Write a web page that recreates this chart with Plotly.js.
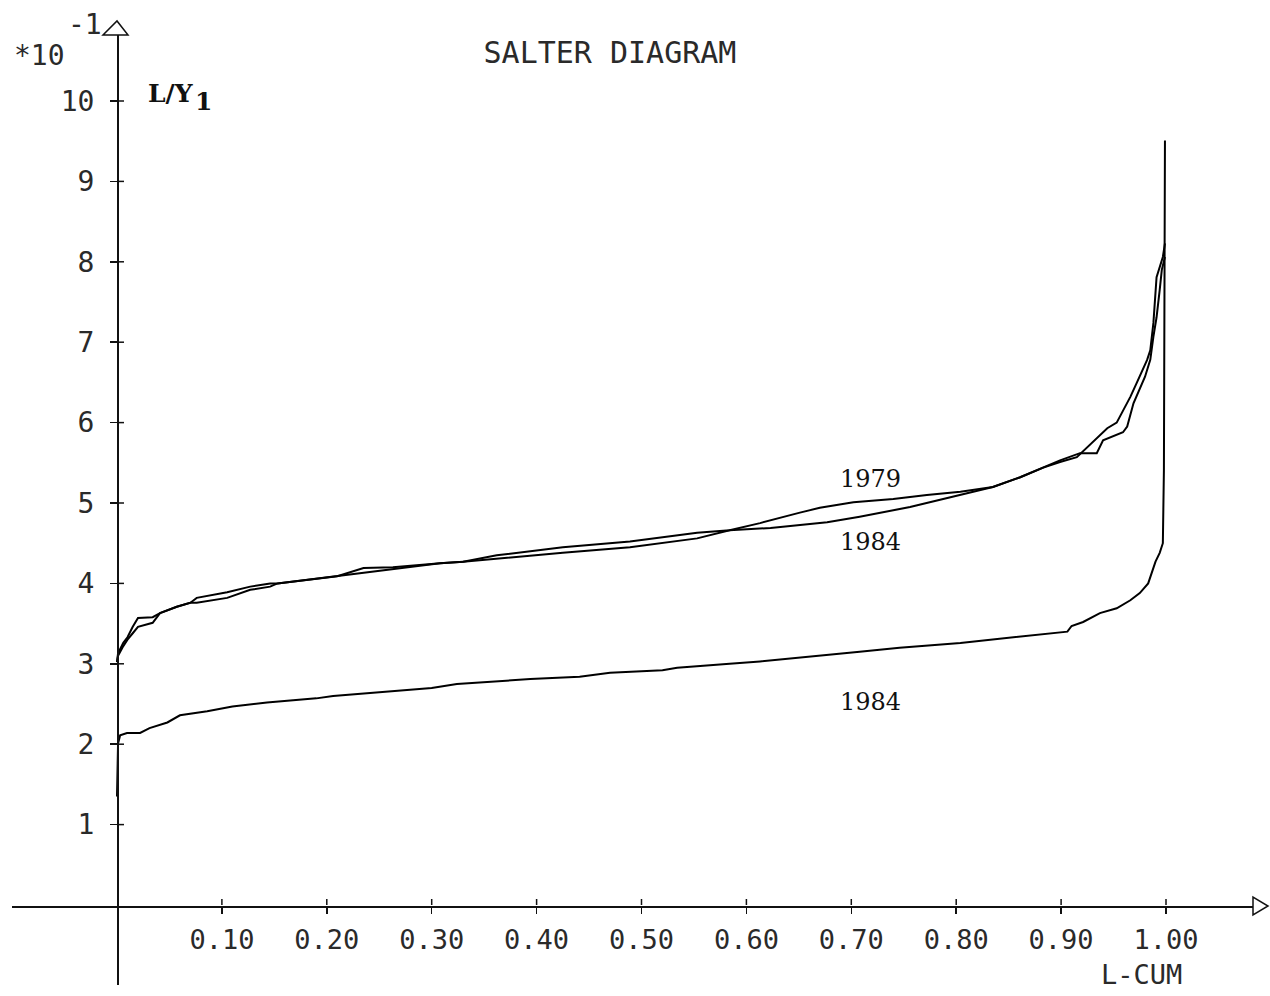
<!DOCTYPE html>
<html>
<head>
<meta charset="utf-8">
<script src="https://cdn.plot.ly/plotly-3.0.1.min.js"></script>
<style>html,body{margin:0;padding:0;background:#fff;}#chart{width:1270px;height:996px;}</style>
</head>
<body>
<div id="chart"></div>
<script>
// ---- data (L-CUM vs L/Y1, values in units of 10^-1) ----
const x1979 = [0, 0.001, 0.006, 0.010, 0.015, 0.020, 0.034, 0.041, 0.057, 0.070, 0.076, 0.105, 0.127, 0.146, 0.153, 0.184, 0.210, 0.235, 0.263, 0.308, 0.330, 0.362, 0.425, 0.489, 0.553, 0.584, 0.613, 0.651, 0.670, 0.702, 0.740, 0.772, 0.804, 0.835, 0.861, 0.883, 0.899, 0.915, 0.934, 0.944, 0.953, 0.966, 0.972, 0.982, 0.985, 0.988, 0.991, 0.994, 0.997, 0.999];
const y1979 = [3.02, 3.13, 3.26, 3.33, 3.46, 3.57, 3.58, 3.63, 3.71, 3.76, 3.82, 3.89, 3.96, 4.00, 4.00, 4.05, 4.09, 4.19, 4.20, 4.25, 4.27, 4.35, 4.45, 4.52, 4.63, 4.66, 4.75, 4.88, 4.94, 5.01, 5.05, 5.10, 5.14, 5.20, 5.32, 5.44, 5.51, 5.57, 5.81, 5.93, 6.00, 6.32, 6.49, 6.78, 6.90, 7.24, 7.81, 7.94, 8.06, 8.23];

const x1984a = [0, 0.001, 0.006, 0.010, 0.015, 0.020, 0.034, 0.041, 0.057, 0.070, 0.076, 0.105, 0.127, 0.146, 0.153, 0.184, 0.210, 0.235, 0.263, 0.308, 0.330, 0.362, 0.425, 0.489, 0.553, 0.584, 0.623, 0.677, 0.708, 0.756, 0.800, 0.835, 0.861, 0.883, 0.899, 0.918, 0.934, 0.940, 0.959, 0.963, 0.969, 0.980, 0.985, 0.988, 0.991, 0.994, 0.996, 0.999];
const y1984a = [3.02, 3.10, 3.22, 3.30, 3.38, 3.46, 3.51, 3.63, 3.71, 3.76, 3.76, 3.82, 3.92, 3.96, 4.00, 4.05, 4.09, 4.13, 4.17, 4.25, 4.27, 4.31, 4.38, 4.45, 4.56, 4.66, 4.69, 4.76, 4.83, 4.95, 5.09, 5.20, 5.32, 5.44, 5.53, 5.62, 5.62, 5.78, 5.88, 5.95, 6.24, 6.57, 6.78, 7.07, 7.31, 7.65, 7.90, 8.06];

const x1984b = [0, 0.001, 0.003, 0.0095, 0.022, 0.031, 0.048, 0.060, 0.086, 0.110, 0.143, 0.190, 0.206, 0.254, 0.300, 0.324, 0.346, 0.394, 0.441, 0.470, 0.520, 0.534, 0.584, 0.613, 0.708, 0.746, 0.804, 0.887, 0.906, 0.910, 0.921, 0.937, 0.953, 0.966, 0.975, 0.983, 0.987, 0.990, 0.994, 0.997, 0.998, 0.999];
const y1984b = [1.35, 2.01, 2.11, 2.14, 2.14, 2.20, 2.27, 2.36, 2.41, 2.47, 2.52, 2.57, 2.60, 2.65, 2.70, 2.75, 2.77, 2.81, 2.84, 2.89, 2.92, 2.95, 3.00, 3.03, 3.15, 3.20, 3.26, 3.38, 3.40, 3.47, 3.52, 3.63, 3.69, 3.79, 3.88, 4.00, 4.17, 4.27, 4.38, 4.50, 5.40, 9.51];

const xTicks = [0.1, 0.2, 0.3, 0.4, 0.5, 0.6, 0.7, 0.8, 0.9, 1.0];
const xTickText = ["0.10", "0.20", "0.30", "0.40", "0.50", "0.60", "0.70", "0.80", "0.90", "1.00"];
const yTicks = [1, 2, 3, 4, 5, 6, 7, 8, 9, 10];
const yTickText = ["1", "2", "3", "4", "5", "6", "7", "8", "9", "10"];

const curveLabels = [
  {text: "1979", x: 0.718, y: 5.30},
  {text: "1984", x: 0.718, y: 4.52},
  {text: "1984", x: 0.718, y: 2.52}
];

// ---- layout helpers ----
const W = 1270, H = 996;
const px = v => v / W;          // pixel -> paper x
const py = v => 1 - v / H;      // pixel -> paper y
const MONO = "DejaVu Sans Mono";
const SERIF = "DejaVu Serif";
const INK = "#111";
const TXT = "#2a2a2a";

const lineStyle = {color: "#000", width: 2};
const traces = [
  {x: x1979, y: y1979, mode: "lines", line: lineStyle, name: "1979", hoverinfo: "skip"},
  {x: x1984a, y: y1984a, mode: "lines", line: lineStyle, name: "1984", hoverinfo: "skip"},
  {x: x1984b, y: y1984b, mode: "lines", line: lineStyle, name: "1984 ", hoverinfo: "skip"}
];

const shapes = [];
// upper/right halves of crossing ticks
xTicks.forEach(t => shapes.push({type: "line", xref: "x", yref: "y", x0: t, x1: t,
  ysizemode: "pixel", yanchor: 0, y0: 0, y1: 6, line: {color: INK, width: 1.5}}));
yTicks.forEach(t => shapes.push({type: "line", xref: "x", yref: "y", y0: t, y1: t,
  xsizemode: "pixel", xanchor: 0, x0: 0, x1: 7, line: {color: INK, width: 1.5}}));
// open arrow heads
shapes.push({type: "path", xref: "paper", yref: "paper",
  path: `M ${px(103)} ${py(35)} L ${px(128)} ${py(35)} L ${px(117)} ${py(21)} Z`,
  line: {color: INK, width: 1.5}, fillcolor: "rgba(0,0,0,0)"});
shapes.push({type: "path", xref: "paper", yref: "paper",
  path: `M ${px(1253)} ${py(897)} L ${px(1253)} ${py(915)} L ${px(1268)} ${py(906)} Z`,
  line: {color: INK, width: 1.5}, fillcolor: "rgba(0,0,0,0)"});

const annotations = curveLabels.map(c => ({
  text: c.text, x: c.x, y: c.y, xref: "x", yref: "y", showarrow: false,
  xanchor: "center", yanchor: "middle", font: {family: SERIF, size: 24, color: INK}
}));
annotations.push(
  {text: "*10", xref: "paper", yref: "paper", x: px(12), y: py(55), xanchor: "left", yanchor: "middle",
   showarrow: false, font: {family: MONO, size: 28, color: TXT}},
  {text: "-1", xref: "paper", yref: "paper", x: px(66), y: py(25), xanchor: "left", yanchor: "middle",
   showarrow: false, font: {family: MONO, size: 28, color: TXT}},
  {text: "<b>L/Y</b>", xref: "paper", yref: "paper", x: px(146), y: py(94), xanchor: "left", yanchor: "middle",
   showarrow: false, font: {family: SERIF, size: 25, color: INK}},
  {text: "<b>1</b>", xref: "paper", yref: "paper", x: px(203), y: py(101), xanchor: "center", yanchor: "middle",
   showarrow: false, font: {family: SERIF, size: 25, color: INK}},
  {text: "L-CUM", xref: "paper", yref: "paper", x: px(1141), y: py(974), xanchor: "center", yanchor: "middle",
   showarrow: false, font: {family: MONO, size: 27, color: TXT}}
);

const layout = {
  width: W, height: H,
  margin: {l: 0, r: 0, t: 0, b: 0},
  paper_bgcolor: "#fff", plot_bgcolor: "#fff",
  showlegend: false,
  title: {text: "SALTER DIAGRAM", x: px(610), y: py(52), xanchor: "center", yanchor: "middle",
          xref: "paper", yref: "paper", font: {family: MONO, size: 30, color: TXT}},
  xaxis: {
    domain: [px(12), px(1253)],
    range: [(12 - 117) / 1049, (1253 - 117) / 1049],
    anchor: "free", position: py(906),
    showgrid: false, zeroline: false,
    showline: true, linecolor: INK, linewidth: 1.5,
    tickmode: "array", tickvals: xTicks, ticktext: xTickText,
    ticks: "outside", ticklen: 6, tickwidth: 1.5, tickcolor: INK,
    ticklabelstandoff: 3,
    tickfont: {family: MONO, size: 27, color: TXT}
  },
  yaxis: {
    domain: [py(985), py(35)],
    range: [(905 - 985) / 80.4, (905 - 35) / 80.4],
    anchor: "free", position: px(117),
    showgrid: false, zeroline: false,
    showline: true, linecolor: INK, linewidth: 1.5,
    tickmode: "array", tickvals: yTicks, ticktext: yTickText,
    ticks: "outside", ticklen: 7, tickwidth: 1.5, tickcolor: INK,
    ticklabelstandoff: 10,
    tickfont: {family: MONO, size: 28, color: TXT}
  },
  shapes: shapes,
  annotations: annotations
};

Plotly.newPlot("chart", traces, layout, {staticPlot: true, displayModeBar: false});
</script>
</body>
</html>
